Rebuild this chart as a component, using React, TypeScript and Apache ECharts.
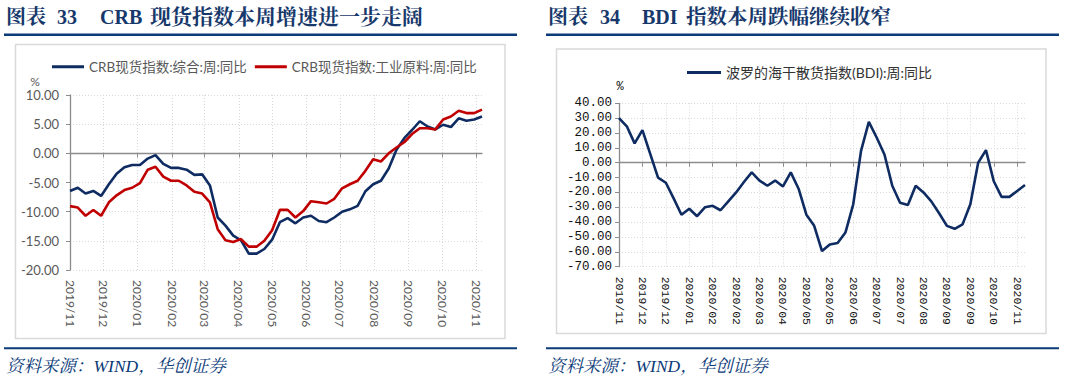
import React, { useEffect, useRef } from "react";
import * as echarts from "echarts";

// ---------- Left chart (CRB) ----------
const crbDates = [
  "2019-11-01", "2019-11-08", "2019-11-15", "2019-11-22", "2019-11-29",
  "2019-12-06", "2019-12-13", "2019-12-20", "2019-12-27",
  "2020-01-03", "2020-01-10", "2020-01-17", "2020-01-24", "2020-01-31",
  "2020-02-07", "2020-02-14", "2020-02-21", "2020-02-28",
  "2020-03-06", "2020-03-13", "2020-03-20", "2020-03-27",
  "2020-04-03", "2020-04-10", "2020-04-17", "2020-04-24",
  "2020-05-01", "2020-05-08", "2020-05-15", "2020-05-22", "2020-05-29",
  "2020-06-05", "2020-06-12", "2020-06-19", "2020-06-26",
  "2020-07-03", "2020-07-10", "2020-07-17", "2020-07-24", "2020-07-31",
  "2020-08-07", "2020-08-14", "2020-08-21", "2020-08-28",
  "2020-09-04", "2020-09-11", "2020-09-18", "2020-09-25",
  "2020-10-02", "2020-10-09", "2020-10-16", "2020-10-23", "2020-10-30",
  "2020-11-06",
];

const crbComposite = [
  -6.45, -5.9, -6.9, -6.45, -7.3, -5.3, -3.5, -2.4, -2.0, -2.0,
  -0.9, -0.3, -1.8, -2.5, -2.5, -2.8, -3.7, -3.6, -5.5, -11.0,
  -12.4, -14.1, -14.9, -17.2, -17.2, -16.4, -14.8, -11.8, -11.1, -12.0,
  -11.0, -10.7, -11.6, -11.8, -11.0, -10.0, -9.6, -9.0, -6.5, -5.3,
  -4.7, -2.6, 0.6, 2.6, 4.0, 5.5, 4.6, 4.1, 4.9, 4.5,
  6.0, 5.6, 5.8, 6.3,
];

const crbIndustrial = [
  -9.05, -9.3, -10.7, -9.7, -10.7, -8.4, -7.2, -6.3, -5.9, -5.1,
  -2.8, -2.3, -4.0, -4.7, -4.7, -5.5, -6.6, -6.9, -8.4, -13.0,
  -14.9, -15.2, -14.7, -16.0, -16.0, -15.0, -13.2, -9.7, -9.7, -11.0,
  -9.9, -8.2, -8.4, -8.6, -7.8, -6.0, -5.3, -4.7, -3.0, -1.0,
  -1.4, 0.0, 1.0, 1.9, 3.3, 4.3, 4.3, 4.1, 5.8, 6.3,
  7.3, 6.9, 6.9, 7.5,
];

const crbMonthTicks = [
  "2019-11-01", "2019-12-01", "2020-01-01", "2020-02-01", "2020-03-01",
  "2020-04-01", "2020-05-01", "2020-06-01", "2020-07-01", "2020-08-01",
  "2020-09-01", "2020-10-01", "2020-11-01",
];

const crbNames = ["CRB现货指数:综合:周:同比", "CRB现货指数:工业原料:周:同比"];

// ---------- Right chart (BDI) ----------
const bdiDates = [
  "2019/11/15", "2019/11/22", "2019/11/29", "2019/12/06", "2019/12/13",
  "2019/12/20", "2019/12/27",
  "2020/01/03", "2020/01/10", "2020/01/17", "2020/01/24", "2020/01/31",
  "2020/02/07", "2020/02/14", "2020/02/21", "2020/02/28",
  "2020/03/06", "2020/03/13", "2020/03/20", "2020/03/27",
  "2020/04/03", "2020/04/10", "2020/04/17", "2020/04/24",
  "2020/05/01", "2020/05/08", "2020/05/15", "2020/05/22", "2020/05/29",
  "2020/06/05", "2020/06/12", "2020/06/19", "2020/06/26",
  "2020/07/03", "2020/07/10", "2020/07/17", "2020/07/24", "2020/07/31",
  "2020/08/07", "2020/08/14", "2020/08/21", "2020/08/28",
  "2020/09/04", "2020/09/11", "2020/09/18", "2020/09/25",
  "2020/10/02", "2020/10/09", "2020/10/16", "2020/10/23", "2020/10/30",
  "2020/11/06", "2020/11/13",
];

const bdiYoY = [
  30, 24.5, 13, 22, 6, -10, -13.5, -24, -35, -31,
  -36, -30, -29, -32, -26, -20, -13, -6.5, -12, -15.5,
  -12, -16, -6.5, -17.5, -35, -42.5, -59.5, -55, -54, -47,
  -28, 8, 27.5, 17, 5.5, -15.5, -27, -28.5, -15.5, -20,
  -26, -34, -42.5, -44.5, -41.5, -28, 0, 8.5, -12.5, -23,
  -23, -19, -15,
];

const bdiName = "波罗的海干散货指数(BDI):周:同比";

const titleLeftParts = ["图表", "33", "CRB", "现货指数本周增速进一步走阔"];
const titleRightParts = ["图表", "34", "BDI", "指数本周跌幅继续收窄"];
const sourceText = "资料来源：WIND，华创证券";

const NAVY = "#0F2C62";
const RED = "#C00000";
const TITLE_BLUE = "#17386B";
const RULE_BLUE = "#0B3A78";
const GRID_LINE = { color: "#D9D9D9", type: [1, 2] as any, width: 1 };
const AXIS_GRAY = "#8C8C8C";
const TITLE_FONT = "'Liberation Serif', 'Noto Serif CJK SC', 'Noto Sans CJK SC', serif";
const SANS = "Lato, 'Noto Sans CJK SC', sans-serif";
const MONO = "'Liberation Mono', 'Noto Sans CJK SC', monospace";

function titleText(x: number, text: string, size: number) {
  return {
    type: "text",
    x,
    y: 17,
    style: {
      text,
      fill: TITLE_BLUE,
      font: `bold ${size}px ${TITLE_FONT}`,
      textVerticalAlign: "middle",
    },
  };
}

export default function App() {
  const ref = useRef<HTMLDivElement>(null);

  useEffect(() => {
    if (!ref.current) return;
    const chart = echarts.init(ref.current, null, { renderer: "svg" });

    const option: any = {
      animation: false,
      backgroundColor: "#ffffff",
      grid: [
        { left: 70, top: 95, width: 412, height: 175 },
        { left: 619, top: 103.3, width: 406, height: 163.4 },
      ],
      legend: [
        {
          data: crbNames,
          left: 52,
          top: 60,
          padding: 0,
          icon: "rect",
          itemWidth: 32,
          itemHeight: 3,
          itemGap: 8,
          textStyle: { fontSize: 13.5, color: "#595959", fontFamily: SANS },
        },
        {
          data: [bdiName],
          left: 687,
          top: 65.5,
          padding: 0,
          icon: "rect",
          itemWidth: 34,
          itemHeight: 3,
          textStyle: { fontSize: 14, color: "#333333", fontFamily: SANS },
        },
      ],
      xAxis: [
        {
          gridIndex: 0,
          type: "time",
          position: "bottom",
          min: crbDates[0],
          max: crbDates[crbDates.length - 1],
          axisLine: { show: false, onZero: false },
          axisTick: { show: false, customValues: crbMonthTicks },
          axisLabel: {
            customValues: crbMonthTicks,
            formatter: "{yyyy}/{MM}",
            rotate: -90,
            margin: 10,
            fontSize: 12,
            color: "#595959",
            fontFamily: SANS,
            hideOverlap: false,
          },
          splitLine: { show: true, lineStyle: GRID_LINE },
        },
        {
          gridIndex: 0,
          type: "time",
          position: "bottom",
          min: crbDates[0],
          max: crbDates[crbDates.length - 1],
          axisLine: { show: true, onZero: true, lineStyle: { color: AXIS_GRAY, width: 1.3 } },
          axisTick: { show: true, customValues: crbMonthTicks, length: 4, lineStyle: { color: AXIS_GRAY } },
          axisLabel: { show: false },
          splitLine: { show: false },
        },
        {
          gridIndex: 1,
          type: "category",
          position: "bottom",
          data: bdiDates,
          boundaryGap: false,
          axisLine: { show: false, onZero: false },
          axisTick: { show: false },
          axisLabel: {
            interval: 2,
            rotate: -90,
            margin: 10,
            fontSize: 11.5,
            color: "#111111",
            fontFamily: MONO,
            formatter: (v: string) => v.slice(0, 7),
          },
          splitLine: { show: true, interval: 2, lineStyle: GRID_LINE },
        },
        {
          gridIndex: 1,
          type: "category",
          position: "bottom",
          data: bdiDates,
          boundaryGap: false,
          axisLine: { show: true, onZero: true, lineStyle: { color: AXIS_GRAY, width: 1.3 } },
          axisTick: { show: true, interval: 2, length: 4, lineStyle: { color: AXIS_GRAY } },
          axisLabel: { show: false },
          splitLine: { show: false },
        },
      ],
      yAxis: [
        {
          gridIndex: 0,
          type: "value",
          min: -20,
          max: 10,
          interval: 5,
          axisLine: { show: true, onZero: false, lineStyle: { color: AXIS_GRAY, width: 1.3 } },
          axisTick: { show: true, length: 4, lineStyle: { color: AXIS_GRAY } },
          axisLabel: {
            margin: 11,
            fontSize: 13,
            color: "#595959",
            fontFamily: SANS,
            formatter: (v: number) => v.toFixed(2),
          },
          splitLine: { show: true, lineStyle: GRID_LINE },
        },
        {
          gridIndex: 1,
          type: "value",
          min: -70,
          max: 40,
          interval: 10,
          axisLine: { show: true, onZero: false, lineStyle: { color: AXIS_GRAY, width: 1.3 } },
          axisTick: { show: true, length: 4, lineStyle: { color: AXIS_GRAY } },
          axisLabel: {
            margin: 7,
            fontSize: 12.5,
            color: "#111111",
            fontFamily: MONO,
            formatter: (v: number) => v.toFixed(2),
          },
          splitLine: { show: true, lineStyle: GRID_LINE },
        },
      ],
      series: [
        {
          name: crbNames[0],
          type: "line",
          xAxisIndex: 0,
          yAxisIndex: 0,
          symbol: "none",
          data: crbDates.map((d, i) => [d, crbComposite[i]]),
          lineStyle: { color: NAVY, width: 2.6 },
          itemStyle: { color: NAVY },
        },
        {
          name: crbNames[1],
          type: "line",
          xAxisIndex: 0,
          yAxisIndex: 0,
          symbol: "none",
          data: crbDates.map((d, i) => [d, crbIndustrial[i]]),
          lineStyle: { color: RED, width: 2.6 },
          itemStyle: { color: RED },
        },
        {
          name: bdiName,
          type: "line",
          xAxisIndex: 2,
          yAxisIndex: 1,
          symbol: "none",
          data: bdiYoY,
          lineStyle: { color: NAVY, width: 2.6 },
          itemStyle: { color: NAVY },
        },
      ],
      graphic: [
        titleText(6, titleLeftParts[0], 20),
        titleText(57, titleLeftParts[1], 20),
        titleText(100, titleLeftParts[2], 20),
        titleText(150, titleLeftParts[3], 21),
        titleText(548, titleRightParts[0], 20),
        titleText(600, titleRightParts[1], 20),
        titleText(642, titleRightParts[2], 20),
        titleText(686, titleRightParts[3], 20.5),
        { type: "rect", shape: { x: 4, y: 33.5, width: 513, height: 2.5 }, style: { fill: RULE_BLUE } },
        { type: "rect", shape: { x: 546, y: 33.5, width: 513, height: 2.5 }, style: { fill: RULE_BLUE } },
        { type: "rect", shape: { x: 15.5, y: 44.5, width: 489.5, height: 294 }, style: { fill: "none", stroke: "#D9D9D9", lineWidth: 1.5 }, z: -1 },
        { type: "rect", shape: { x: 556.5, y: 49, width: 489.5, height: 284.5 }, style: { fill: "none", stroke: "#D9D9D9", lineWidth: 1.5 }, z: -1 },
        { type: "text", x: 35, y: 81, style: { text: "%", fill: "#595959", font: `12px ${SANS}`, textAlign: "center", textVerticalAlign: "middle" } },
        { type: "text", x: 620, y: 87, style: { text: "%", fill: "#111111", font: `12px ${MONO}`, textAlign: "center", textVerticalAlign: "middle" } },
        { type: "rect", shape: { x: 4, y: 347.3, width: 513, height: 2 }, style: { fill: RULE_BLUE } },
        { type: "rect", shape: { x: 546, y: 347.3, width: 513, height: 2 }, style: { fill: RULE_BLUE } },
        { type: "text", x: 6, y: 366, style: { text: sourceText, fill: RULE_BLUE, font: `italic 17.5px ${TITLE_FONT}`, textVerticalAlign: "middle" } },
        { type: "text", x: 548, y: 366, style: { text: sourceText, fill: RULE_BLUE, font: `italic 17.5px ${TITLE_FONT}`, textVerticalAlign: "middle" } },
      ],
    };

    chart.setOption(option);
    return () => chart.dispose();
  }, []);

  return (
    <div
      ref={ref}
      style={{ position: "fixed", left: 0, top: 0, width: 1078, height: 388, background: "#fff" }}
    />
  );
}
